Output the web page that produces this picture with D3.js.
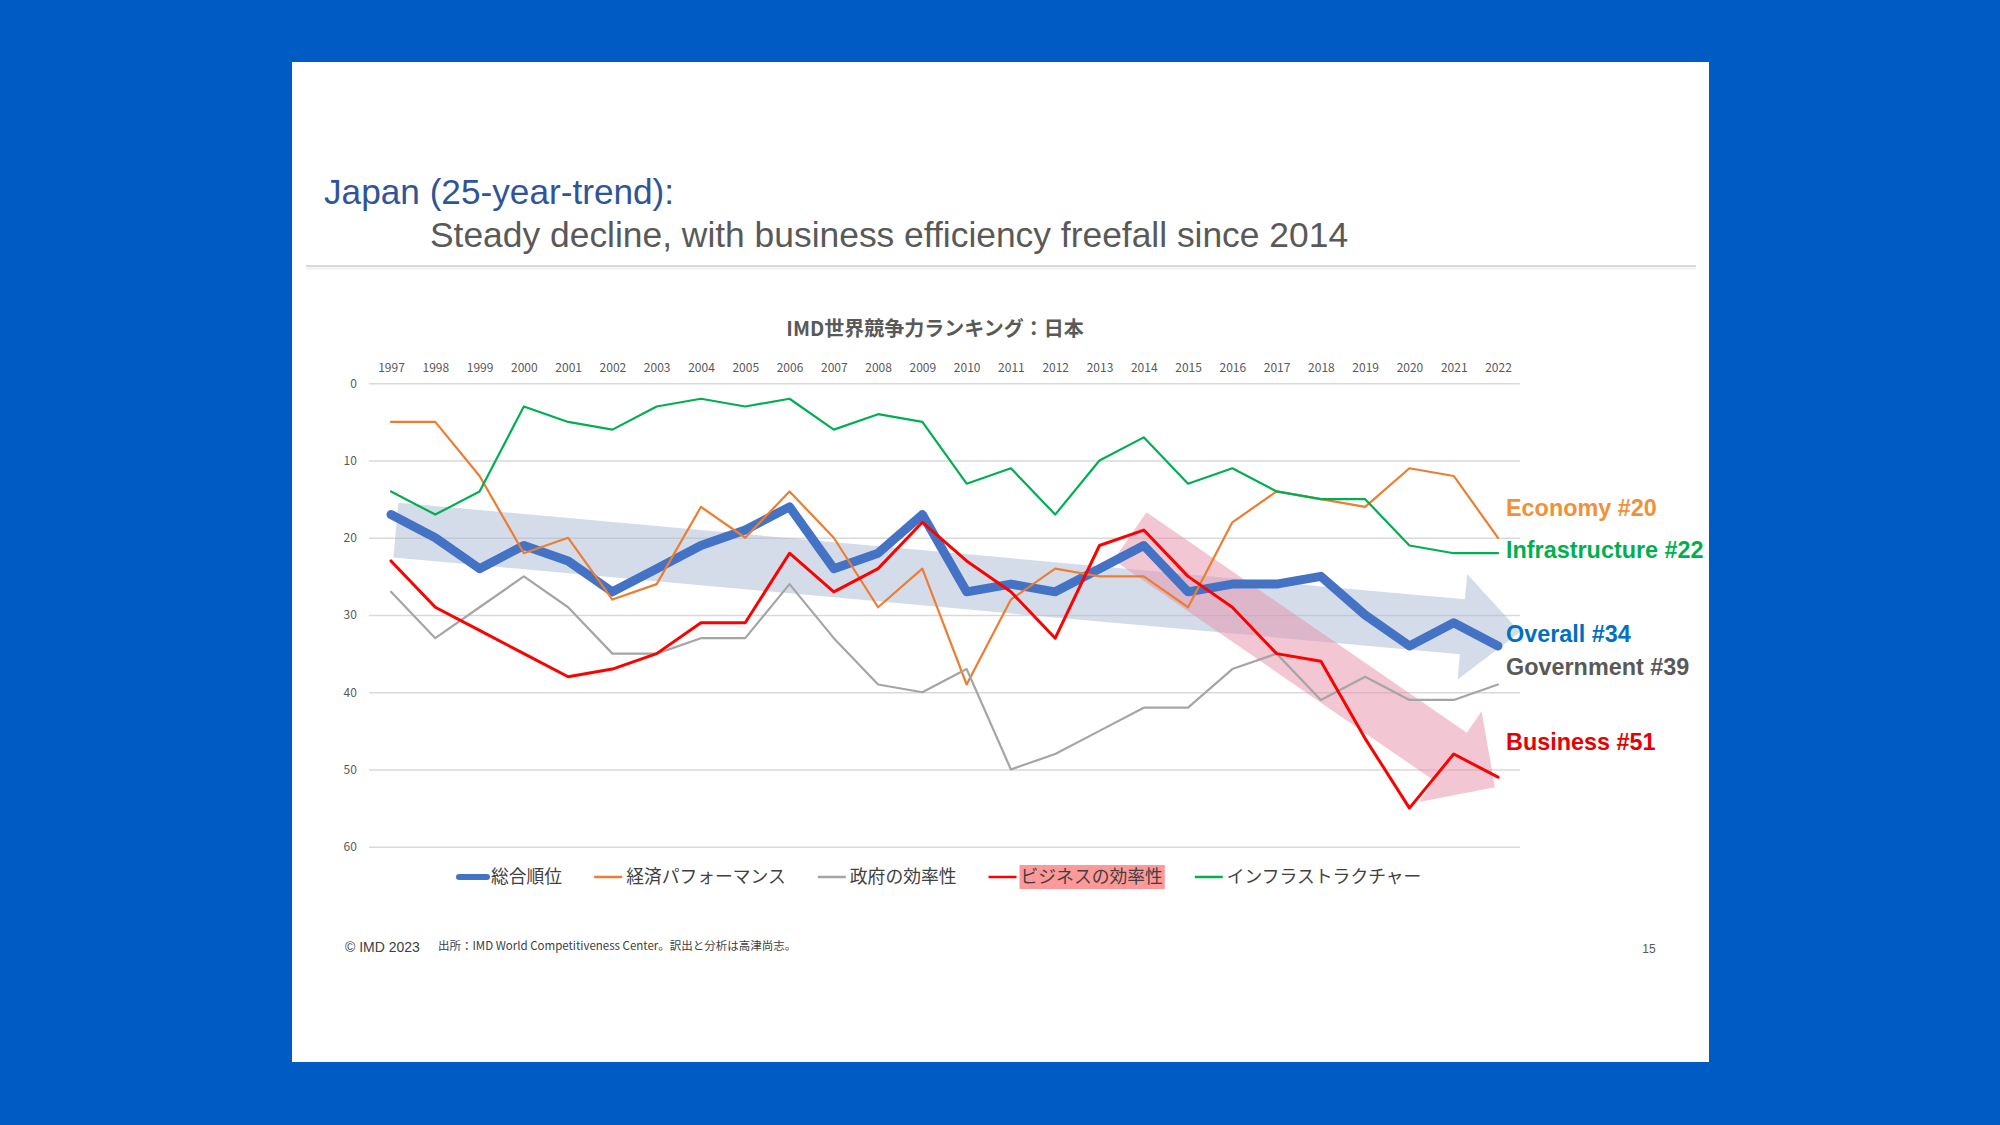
<!DOCTYPE html>
<html>
<head>
<meta charset="utf-8">
<script src="https://cdn.jsdelivr.net/npm/d3@7"></script>
<style>
  html, body { margin: 0; padding: 0; background: #005bc4; }
  svg { display: block; }
</style>
</head>
<body>
<div id="chart"></div>
<script>
// --- data (IMD World Competitiveness Ranking, Japan) ---
const years = [1997, 1998, 1999, 2000, 2001, 2002, 2003, 2004, 2005, 2006, 2007, 2008, 2009,
               2010, 2011, 2012, 2013, 2014, 2015, 2016, 2017, 2018, 2019, 2020, 2021, 2022];
const overall        = [17, 20, 24, 21, 23, 27, 24, 21, 19, 16, 24, 22, 17, 27, 26, 27, 24, 21, 27, 26, 26, 25, 30, 34, 31, 34];
const economy        = [5, 5, 12, 22, 20, 28, 26, 16, 20, 14, 20, 29, 24, 39, 28, 24, 25, 25, 29, 18, 14, 15, 16, 11, 12, 20];
const government     = [27, 33, 29, 25, 29, 35, 35, 33, 33, 26, 33, 39, 40, 37, 50, 48, 45, 42, 42, 37, 35, 41, 38, 41, 41, 39];
const business       = [23, 29, 32, 35, 38, 37, 35, 31, 31, 22, 27, 24, 18, 23, 27, 33, 21, 19, 25, 29, 35, 36, 46, 55, 48, 51];
const infrastructure = [14, 17, 14, 3, 5, 6, 3, 2, 3, 2, 6, 4, 5, 13, 11, 17, 10, 7, 13, 11, 14, 15, 15, 21, 22, 22];

const seriesNames  = ["総合順位", "経済パフォーマンス", "政府の効率性", "ビジネスの効率性", "インフラストラクチャー"];
const endLabels    = ["Overall #34", "Economy #20", "Government #39", "Business #51", "Infrastructure #22"];
const yTicks       = [0, 10, 20, 30, 40, 50, 60];

// trend arrows, in (year, rank) units
const trendArrows = [
  { from: [1997.11, 19.0], to: [2022.5, 32.2] },   // overall decline
  { from: [2013.69, 19.8], to: [2021.93, 52.3] }   // business freefall
];

// --- styles ---
const lineColors  = ["#4472C4", "#ED7D31", "#A5A5A5", "#FF0000", "#00B050"];
const lineWidths  = [9, 2.2, 2.2, 3, 2.2];
const labelColors = ["#0070C0", "#F0913A", "#595959", "#E60000", "#00B050"];
const labelY      = [642, 516, 675, 750, 558];   // baselines of end labels
const arrowStyle  = [
  { fill: "#A9B9D6", opacity: 0.5, half: 27.5, headLen: 58, headHalf: 53 },
  { fill: "#E58FA8", opacity: 0.5, half: 29,   headLen: 54, headHalf: 55 }
];

const allSeries = [overall, economy, government, business, infrastructure];

const W = 2000, H = 1125;
const svg = d3.select("#chart").append("svg")
  .attr("width", W).attr("height", H);

// blue backdrop + white slide
svg.append("rect").attr("width", W).attr("height", H).attr("fill", "#005bc4");
svg.append("rect")
  .attr("x", 292).attr("y", 62).attr("width", 1417).attr("height", 1000)
  .attr("fill", "#ffffff");

// titles
svg.append("text")
  .attr("x", 324).attr("y", 204)
  .attr("font-family", "'Liberation Sans', Arial, sans-serif")
  .attr("font-size", 35.2).attr("fill", "#2F5597")
  .text("Japan (25-year-trend):");
svg.append("text")
  .attr("x", 430).attr("y", 247)
  .attr("font-family", "'Liberation Sans', Arial, sans-serif")
  .attr("font-size", 35.4).attr("fill", "#595959")
  .text("Steady decline, with business efficiency freefall since 2014");
svg.append("line")
  .attr("x1", 306).attr("x2", 1696).attr("y1", 266).attr("y2", 266)
  .attr("stroke", "#d9d9d9").attr("stroke-width", 2);
svg.append("line")
  .attr("x1", 306).attr("x2", 1696).attr("y1", 268.5).attr("y2", 268.5)
  .attr("stroke", "#f0f0f0").attr("stroke-width", 2);

// chart title
svg.append("text")
  .attr("x", 935).attr("y", 336)
  .attr("text-anchor", "middle")
  .attr("font-family", "'Noto Sans CJK JP', sans-serif")
  .attr("font-weight", "bold")
  .attr("font-size", 20).attr("fill", "#595959")
  .text("IMD世界競争力ランキング：日本");

// scales
const x = d3.scaleLinear().domain([1997, 2022]).range([391, 1498]);
const y = d3.scaleLinear().domain([0, 60]).range([383.3, 846.7]);
const gridLeft = x(1996.5), gridRight = x(2022.5);

// y axis with gridlines
const yAxis = svg.append("g")
  .attr("transform", `translate(${gridLeft},0)`)
  .call(d3.axisLeft(y).tickValues(yTicks).tickSize(-(gridRight - gridLeft)).tickPadding(12));
yAxis.select(".domain").remove();
yAxis.selectAll("line").attr("stroke", "#d9d9d9").attr("stroke-width", 1.5);
yAxis.selectAll("text")
  .attr("font-family", "'Noto Sans CJK JP', sans-serif")
  .attr("font-size", 12).attr("fill", "#595959");

// x axis on top (reversed-rank chart)
const xAxis = svg.append("g")
  .attr("transform", `translate(0,${y(0)})`)
  .call(d3.axisTop(x).tickValues(years).tickFormat(d3.format("d")).tickSize(0).tickPadding(11));
xAxis.select(".domain").remove();
xAxis.selectAll("text")
  .attr("font-family", "'Noto Sans CJK JP', sans-serif")
  .attr("font-size", 12).attr("fill", "#595959");

// trend arrows
function arrowPath(p0, p1, s) {
  const dx = p1[0] - p0[0], dy = p1[1] - p0[1];
  const len = Math.hypot(dx, dy);
  const ux = dx / len, uy = dy / len, nx = -uy, ny = ux;
  const bx = p1[0] - ux * s.headLen, by = p1[1] - uy * s.headLen;
  const pts = [
    [p0[0] + nx * s.half, p0[1] + ny * s.half],
    [bx + nx * s.half, by + ny * s.half],
    [bx + nx * s.headHalf, by + ny * s.headHalf],
    [p1[0], p1[1]],
    [bx - nx * s.headHalf, by - ny * s.headHalf],
    [bx - nx * s.half, by - ny * s.half],
    [p0[0] - nx * s.half, p0[1] - ny * s.half]
  ];
  return "M" + pts.map(p => p.join(",")).join("L") + "Z";
}
svg.append("g").selectAll("path")
  .data(trendArrows)
  .join("path")
  .attr("d", (d, i) => arrowPath([x(d.from[0]), y(d.from[1])], [x(d.to[0]), y(d.to[1])], arrowStyle[i]))
  .attr("fill", (d, i) => arrowStyle[i].fill)
  .attr("fill-opacity", (d, i) => arrowStyle[i].opacity);

// lines
const line = d3.line()
  .x((d, i) => x(years[i]))
  .y(d => y(d));

svg.append("g").selectAll("path")
  .data(allSeries)
  .join("path")
  .attr("d", line)
  .attr("fill", "none")
  .attr("stroke", (d, i) => lineColors[i])
  .attr("stroke-width", (d, i) => lineWidths[i])
  .attr("stroke-linejoin", "round")
  .attr("stroke-linecap", "round");

// end labels
svg.append("g").selectAll("text")
  .data(endLabels)
  .join("text")
  .attr("x", 1506)
  .attr("y", (d, i) => labelY[i])
  .attr("font-family", "'Liberation Sans', Arial, sans-serif")
  .attr("font-weight", "bold")
  .attr("font-size", 23.4)
  .attr("fill", (d, i) => labelColors[i])
  .text(d => d);

// legend
const legend = svg.append("g").attr("transform", "translate(0,877)");
let lx = 459;
seriesNames.forEach((name, i) => {
  const item = legend.append("g");
  item.append("line")
    .attr("x1", lx).attr("x2", lx + 28)
    .attr("stroke", lineColors[i])
    .attr("stroke-width", i === 0 ? 6 : 2.5)
    .attr("stroke-linecap", i === 0 ? "round" : "butt");
  const t = item.append("text")
    .attr("x", lx + 32)
    .attr("dy", "0.35em")
    .attr("font-family", "'Noto Sans CJK JP', sans-serif")
    .attr("font-size", 17.8)
    .attr("fill", "#404040")
    .text(name);
  const w = t.node().getComputedTextLength();
  if (i === 3) {
    item.insert("rect", "text")
      .attr("x", lx + 31).attr("y", -12)
      .attr("width", w + 3).attr("height", 24)
      .attr("fill", "#FF9999");
  }
  lx += 32 + w + 32;
});

// footer
svg.append("text")
  .attr("x", 345).attr("y", 952)
  .attr("font-family", "'Liberation Sans', Arial, sans-serif")
  .attr("font-size", 14).attr("fill", "#404040")
  .text("© IMD 2023");
svg.append("text")
  .attr("x", 438).attr("y", 950)
  .attr("font-family", "'Noto Sans CJK JP', sans-serif")
  .attr("font-size", 11.5).attr("fill", "#404040")
  .text("出所：IMD World Competitiveness Center。訳出と分析は高津尚志。");
svg.append("text")
  .attr("x", 1649).attr("y", 953)
  .attr("text-anchor", "middle")
  .attr("font-family", "'Liberation Sans', Arial, sans-serif")
  .attr("font-size", 12).attr("fill", "#595959")
  .text("15");
</script>
</body>
</html>
